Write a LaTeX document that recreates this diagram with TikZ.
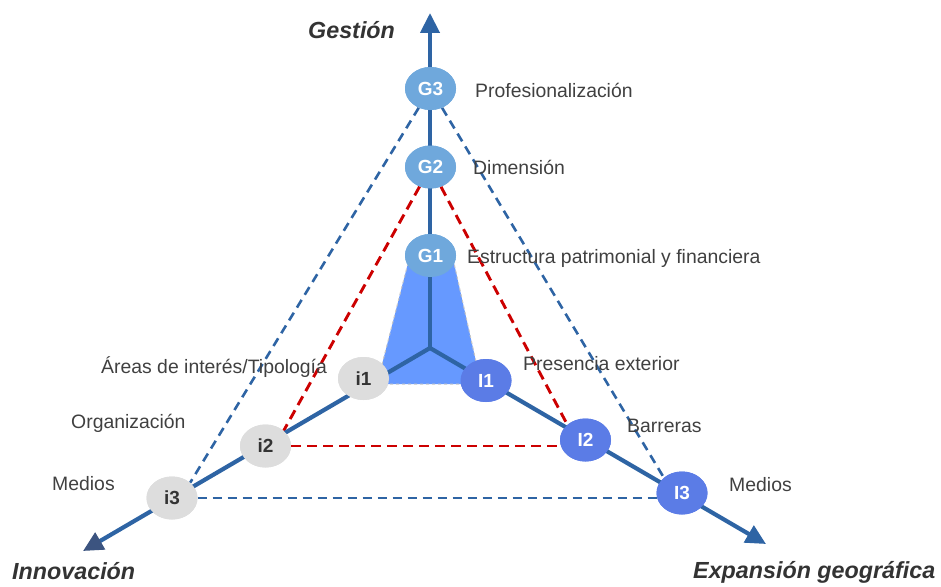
\documentclass[tikz,border=0pt]{standalone}
\usepackage{fontspec}
\setmainfont{Liberation Sans}
\usetikzlibrary{arrows.meta,shapes.geometric}
\definecolor{axisblue}{RGB}{46,100,164}
\definecolor{arrowdark}{RGB}{60,84,128}
\definecolor{gblue}{RGB}{111,168,220}
\definecolor{iblue}{RGB}{91,124,230}
\definecolor{igray}{RGB}{221,221,221}
\definecolor{fillblue}{RGB}{102,153,255}
\definecolor{txt}{RGB}{64,64,64}
\definecolor{dred}{RGB}{204,0,0}
\tikzset{
  axisline/.style={draw=axisblue, line width=4.2pt},
  axistip/.style={-{Triangle[width=19pt,length=20pt]}},
  lvl/.style={ellipse, minimum width=51pt, minimum height=43pt, inner sep=0pt,
    font=\fontsize{19}{21}\selectfont\bfseries},
  gnode/.style={lvl, fill=gblue, text=white},
  inode/.style={lvl, fill=iblue, text=white},
  onode/.style={lvl, fill=igray, text=black!80},
  reddash/.style={draw=dred, line width=2.9pt, dash pattern=on 10pt off 6pt},
  bluedash/.style={draw=axisblue, line width=2.6pt, dash pattern=on 9pt off 6pt},
  lab/.style={anchor=base west, inner sep=0pt, text=txt, font=\fontsize{19.4}{22}\selectfont},
  ttl/.style={anchor=base west, inner sep=0pt, text=txt!80!black, font=\fontsize{23.3}{26}\selectfont\bfseries\itshape},
}
\begin{document}
\begin{tikzpicture}[x=1pt,y=-1pt]
\useasboundingbox (0,0) rectangle (941,586);
% coordinates
\coordinate (C) at (430,348);
\coordinate (tipG) at (430,13);
\coordinate (tipI) at (83,551);
\coordinate (tipE) at (766,544);
% nodes (placed first so lines can reference them; redrawn on top later)
\path
  (430.5,88.5) node[gnode] (G3) {}
  (430.5,167) node[gnode] (G2) {}
  (430.5,255.5) node[gnode] (G1) {}
  (363.5,378.5) node[onode] (i1) {}
  (265.5,446) node[onode] (i2) {}
  (172,498) node[onode] (i3) {}
  (486,380.5) node[inode] (I1) {}
  (585.5,440) node[inode] (I2) {}
  (682,493) node[inode] (I3) {};
% dashed triangles
\draw[bluedash] (G3) -- (i3.north east);
\draw[bluedash] (G3) -- (I3.north west);
\draw[bluedash] (i3.east) -- (i3.east -| I3.center);
\draw[reddash] (G2) -- (i2.north east);
\draw[reddash] (G2) -- (I2.north west);
\draw[reddash] (i2.east) -- (i2.east -| I2.center);
% filled inner triangle
\fill[fillblue] (408,263) -- (454,263) -- (481,384) -- (377,384) -- cycle;
\draw[black!22, line width=1pt, dashed] (408,263) -- (377,384) -- (481,384) -- (454,263);
% axes
\draw[axisline, axistip] (C) -- (tipG);
\draw[axisline, -{Triangle[width=19pt,length=20pt,color=arrowdark]}] (C) -- (tipI);
\draw[axisline, axistip] (C) -- (tipE);
% nodes on top
\path
  (430.5,88.5) node[gnode] {G3}
  (430.5,167) node[gnode] {G2}
  (430.5,255.5) node[gnode] {G1}
  (363.5,378.5) node[onode] {i1}
  (265.5,446) node[onode] {i2}
  (172,498) node[onode] {i3}
  (486,380.5) node[inode] {I1}
  (585.5,440) node[inode] {I2}
  (682,493) node[inode] {I3};
% labels
\node[lab] (l1) at (475,97) {Profesionalización};
\node[lab] (l2) at (473,174) {Dimensión};
\node[lab] (l3) at (467,263) {Estructura patrimonial y financiera};
\node[lab] (l4) at (523,370) {Presencia exterior};
\node[lab] (l5) at (627,432) {Barreras};
\node[lab] (l6) at (729,491) {Medios};
\node[lab] (l7) at (101,373) {Áreas de interés/Tipología};
\node[lab] (l8) at (71,428) {Organización};
\node[lab] (l9) at (52,490) {Medios};
% titles
\node[ttl] (t1) at (308,38) {Gestión};
\node[ttl] (t2) at (12,579) {Innovación};
\node[ttl] (t3) at (693,578) {Expansión geográfica};
\end{tikzpicture}
\end{document}
